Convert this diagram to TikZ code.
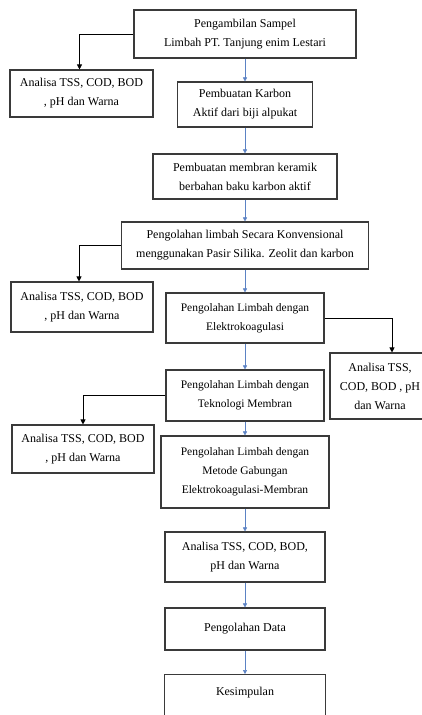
\documentclass[tikz,border=0pt]{standalone}
\usepackage{fontspec}
\setmainfont{Liberation Serif}
\definecolor{flowblue}{HTML}{5B82C4}
\definecolor{edge}{HTML}{3A3A3A}
\usepackage{tikz}
\usetikzlibrary{calc, positioning, arrows.meta}

\tikzset{
  stepbox/.style={draw=edge, line width=1.1pt, fill=white, align=center,
    inner sep=2pt, font=\fontsize{12}{19}\selectfont},
  flow/.style={flowblue, line width=0.5pt, -{Triangle[length=4pt, width=4pt]}},
  side/.style={black, line width=0.8pt, -{Triangle[length=5pt, width=5pt]}}
}

\begin{document}
\begin{tikzpicture}[x=1pt, y=-1pt]
  \useasboundingbox (0,0) rectangle (421,715);
  % main column
  \node[stepbox, minimum width=222pt, minimum height=48pt] (sampel) at (245,34)
    {Pengambilan Sampel\\Limbah PT. Tanjung enim Lestari};
  \node[stepbox, minimum width=135pt, minimum height=45pt] (karbon) at (245,104.5)
    {Pembuatan Karbon\\Aktif dari biji alpukat};
  \node[stepbox, minimum width=184pt, minimum height=45pt] (keramik) at (245,176.5)
    {Pembuatan membran keramik\\berbahan baku karbon aktif};
  \node[stepbox, minimum width=247pt, minimum height=47pt] (konv) at (245,245.5)
    {Pengolahan limbah Secara Konvensional\\menggunakan Pasir Silika. Zeolit dan karbon};
  \node[stepbox, minimum width=158pt, minimum height=50pt, font=\fontsize{11.5}{19}\selectfont] (elektro) at (245,318)
    {Pengolahan Limbah dengan\\Elektrokoagulasi};
  \node[stepbox, minimum width=158pt, minimum height=51pt, font=\fontsize{11.5}{19}\selectfont] (membran) at (245,395.5)
    {Pengolahan Limbah dengan\\Teknologi Membran};
  \node[stepbox, minimum width=168pt, minimum height=72pt, font=\fontsize{11.5}{19}\selectfont] (gabung) at (245,472)
    {Pengolahan Limbah dengan\\Metode Gabungan\\Elektrokoagulasi-Membran};
  \node[stepbox, minimum width=160pt, minimum height=50pt] (analisa) at (245,557)
    {Analisa TSS, COD, BOD,\\pH dan Warna};
  \node[stepbox, minimum width=160pt, minimum height=42pt] (data) at (245,629)
    {Pengolahan Data};
  \node[stepbox, minimum width=161pt, inner ysep=0pt, text height=21pt, text depth=30pt, anchor=north] (simpul) at (245,674)
    {Kesimpulan};

  % side analyses
  \node[stepbox, minimum width=143pt, minimum height=47pt] (uji1) at (81.5,93.5)
    {Analisa TSS, COD, BOD\\, pH dan Warna};
  \node[stepbox, minimum width=142pt, minimum height=50pt] (uji2) at (82,307)
    {Analisa TSS, COD, BOD\\, pH dan Warna};
  \node[stepbox, minimum width=100pt, minimum height=66pt] (uji3) at (380,386)
    {Analisa TSS,\\COD, BOD , pH\\dan Warna};
  \node[stepbox, minimum width=142pt, minimum height=48pt] (uji4) at (83,449)
    {Analisa TSS, COD, BOD\\, pH dan Warna};

  % arrows
  \draw[flow] (sampel) -- (karbon);
  \draw[flow] (karbon) -- (keramik);
  \draw[flow] (keramik) -- (konv);
  \draw[flow] (konv) -- (elektro);
  \draw[flow] (elektro) -- (membran);
  \draw[flow] (membran) -- (gabung);
  \draw[flow] (gabung) -- (analisa);
  \draw[flow] (analisa) -- (data);
  \draw[flow] (data) -- (simpul);

  \draw[side] (sampel.west) -| ([xshift=-2pt]uji1.north);
  \draw[side] (konv.west) -| ([xshift=-3pt]uji2.north);
  \draw[side] (elektro.east) -| ([xshift=12pt]uji3.north);
  \draw[side] (membran.west) -| (uji4.north);
\end{tikzpicture}
\end{document}
